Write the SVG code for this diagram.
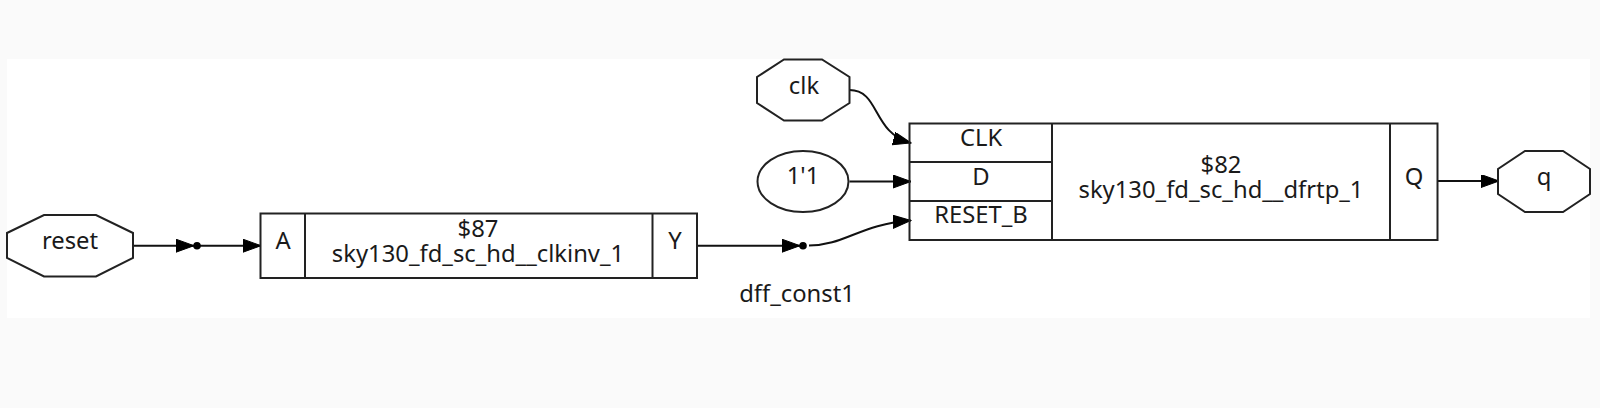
<svg xmlns="http://www.w3.org/2000/svg" width="1600" height="408" viewBox="0 0 1600 408">
<style>
.s{fill:none;stroke:#222;stroke-width:2}
.b{fill:#fff;stroke:#222;stroke-width:2}
.e{fill:none;stroke:#111;stroke-width:2}
.h{fill:#000;stroke:#000}
.d{fill:#000}
text{font-family:"Noto Sans","Open Sans",sans-serif;font-size:23.8px;fill:#1a1a1a;text-anchor:middle}
</style>
<defs><marker id="a" markerWidth="19" markerHeight="14" refX="18" refY="6.5" orient="auto" markerUnits="userSpaceOnUse"><path d="M0 0L18 6.5L0 13Z" class="h"/></marker></defs>
<rect width="1600" height="408" fill="#fafafa"/>
<rect x="7" y="59" width="1583" height="259" fill="#fff"/>
<g id="connectors">
<path class="e" d="M133 245.700H194" marker-end="url(#a)"/>
<path class="e" d="M200 245.700H261" marker-end="url(#a)"/>
<path class="e" d="M697 245.700H800" marker-end="url(#a)"/>
<path class="e" d="M849.500 90C880 90 872 133 911 143" marker-end="url(#a)"/>
<path class="e" d="M849.500 181.500H911" marker-end="url(#a)"/>
<path class="e" d="M809 245.500C845 245.500 860 224 911 220.500" marker-end="url(#a)"/>
<path class="e" d="M1437.500 181H1499" marker-end="url(#a)"/>
<circle class="d" cx="197" cy="245.700" r="3.800"/>
<circle class="d" cx="803" cy="245.700" r="3.800"/>
</g>
<g id="reset"><path class="b" d="M44 215H96L133 233V258L96 276.500H44L7 258V233Z"/><text x="70" y="249">reset</text></g>
<g id="clk"><path class="b" d="M784 59.500H822L849.500 77V103L822 120.500H784L757 103V77Z"/><text x="804" y="94">clk</text></g>
<g id="const"><ellipse class="b" cx="803" cy="181.500" rx="45.500" ry="30.500"/><text x="803" y="184">1'1</text></g>
<g id="q"><path class="b" d="M1525 151H1563L1590 169V194L1563 212H1525L1498 194V169Z"/><text x="1544" y="185">q</text></g>
<g id="cell87">
<rect class="s" x="260.500" y="213.500" width="436.500" height="64.500"/>
<path class="s" d="M305 213.500V278M652.500 213.500V278"/>
<text x="283" y="249">A</text>
<text x="478" y="237">$87</text>
<text x="478" y="262">sky130_fd_sc_hd__clkinv_1</text>
<text x="675" y="249">Y</text>
</g>
<g id="cell82">
<rect class="s" x="909.500" y="123.500" width="528" height="116.500"/>
<path class="s" d="M1052 123.500V240M1390 123.500V240M909.500 162H1052M909.500 201H1052"/>
<text x="981" y="146">CLK</text>
<text x="981" y="185">D</text>
<text x="981" y="223">RESET_B</text>
<text x="1221" y="173">$82</text>
<text x="1221" y="198">sky130_fd_sc_hd__dfrtp_1</text>
<text x="1414" y="185">Q</text>
</g>
<text x="797" y="302">dff_const1</text>
</svg>
